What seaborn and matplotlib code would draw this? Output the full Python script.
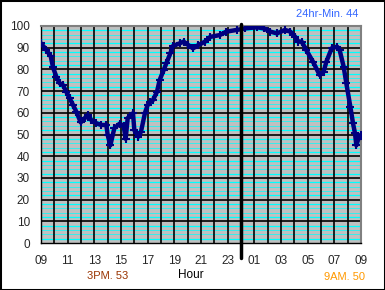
import matplotlib
matplotlib.use("Agg")
import matplotlib.pyplot as plt
import seaborn as sns
import pandas as pd
from matplotlib.patches import Rectangle

# hours after 09:00
hours = [0.0, 0.4, 0.73, 0.9, 1.15, 1.4, 1.65, 1.9, 2.15, 2.4, 2.65, 2.98, 3.28, 3.5,
         3.77, 4.15, 4.5, 4.9, 5.0, 5.2, 5.5, 5.9, 6.2, 6.35, 6.5, 6.9, 7.0, 7.3, 7.5,
         7.8, 8.0, 8.2, 8.4, 8.7, 8.9, 9.2, 9.4, 9.7, 9.9, 10.4, 10.7, 11.05, 11.4, 11.8,
         12.3, 12.7, 13.4, 13.9, 14.7, 15.3, 16.2, 16.7, 17.2, 17.7, 18.3, 18.7, 19.05,
         19.3, 19.55, 19.9, 20.4, 20.9, 21.2, 21.4, 21.8, 22.2, 22.4, 22.7, 22.9, 23.2,
         23.4, 23.55, 23.65, 23.8, 24.0]
humidity = [92, 89, 86, 81, 76.6, 73.6, 72.8, 69.7, 66.7, 63.6, 60.5, 55.6, 57.5, 59,
            56.7, 55.2, 54.4, 54.4, 49.8, 45, 52.9, 55, 54, 48, 57.5, 59.8, 52, 49, 51.3,
            60, 63.6, 65, 65.9, 69.7, 75.1, 79.7, 82.8, 87.4, 90.8, 92, 92.8, 91.2, 89.7, 91.2,
            92.8, 95, 95.8, 97.4, 98.2, 98.9, 99.4, 98.9, 97.4, 96.6, 98.2, 97.4, 95.1,
            92.8, 92.8, 88.9, 83.5, 77.4, 79, 83.5, 89.7, 90.5, 88.9, 81.2, 73.6, 62.8,
            55.2, 50.5, 45, 48, 50]
xtick_pos = list(range(0, 25, 2))
xtick_labels = ["09", "11", "13", "15", "17", "19", "21", "23", "01", "03", "05", "07", "09"]
yticks = list(range(0, 101, 10))

df = pd.DataFrame({"hour": hours, "humidity": humidity})

sns.set_style("white")
plt.rcParams["font.family"] = ["Liberation Sans", "DejaVu Sans"]

fig = plt.figure(figsize=(3.85, 2.9), dpi=100, facecolor="white")
fig.patches.append(Rectangle((0, 0), 1, 1, transform=fig.transFigure, fill=False,
                             edgecolor="black", linewidth=2.2, zorder=10))
ax = fig.add_axes([41/385, 1-243/290, 320/385, 217/290])
ax.set_facecolor("#C0C0C0")

# cyan minor lines
for base in range(0, 100, 10):
    for off, lw in [(2, 0.9), (4, 0.5), (6, 0.5), (8, 0.9)]:
        ax.axhline(base + off, color="#00FFFF", lw=lw, zorder=1)
# black major lines
for v in range(10, 100, 10):
    ax.axhline(v, color="black", lw=1.2, zorder=1.5)
for h in range(1, 24):
    ax.axvline(h, color="black", lw=1.2, zorder=1.5)

sns.lineplot(data=df, x="hour", y="humidity", ax=ax, color="#000080", lw=3.2,
             marker="+", markersize=6, markeredgewidth=1.5, markeredgecolor="#000080",
             zorder=3, sort=False)

ax.axvline(15, ymin=-0.069, ymax=1.01, color="black", lw=2.5, clip_on=False, zorder=4)

ax.set_xlim(0, 24)
ax.set_ylim(0, 100)
ax.set_xticks(xtick_pos)
ax.set_xticklabels(xtick_labels)
ax.set_yticks(yticks)
ax.tick_params(axis="both", labelsize=8.5, length=4, width=1, color="black", direction="out")
ax.tick_params(axis="x", pad=5)
ax.tick_params(axis="y", pad=4)
ax.set_xlabel("")
ax.set_ylabel("")
for s in ["left", "bottom"]:
    ax.spines[s].set_color("black")
    ax.spines[s].set_linewidth(1)
for s in ["top", "right"]:
    ax.spines[s].set_color("#808080")
    ax.spines[s].set_linewidth(1.5)

fig.text(358/385, 1-14/290, "24hr-Min. 44", color="#3366FF", fontsize=8,
         ha="right", va="center")
fig.text(108/385, 1-276/290, "3PM. 53", color="#993300", fontsize=8,
         ha="center", va="center")
fig.text(191/385, 1-275/290, "Hour", color="black", fontsize=8.5,
         ha="center", va="center")
fig.text(344/385, 1-277/290, "9AM. 50", color="#FF9900", fontsize=8,
         ha="center", va="center")

fig.savefig("out.png", dpi=100, facecolor="white")
